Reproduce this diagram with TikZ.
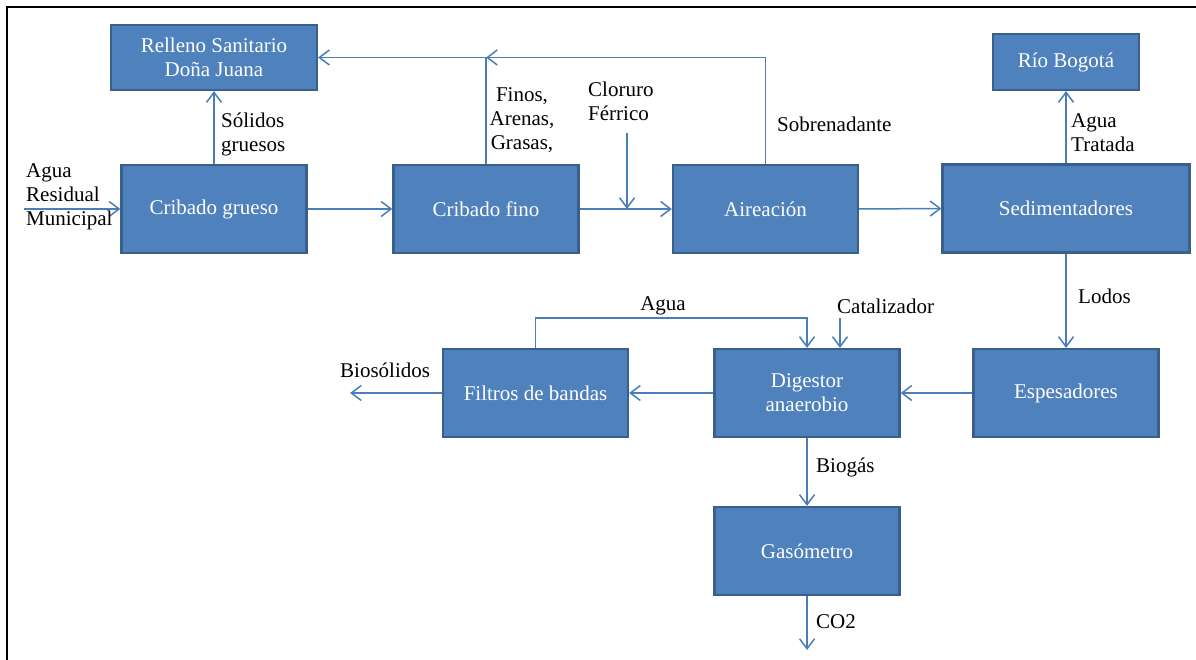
\documentclass[tikz,border=0pt]{standalone}
\usepackage{fontspec}
\setmainfont{Liberation Serif}
\usetikzlibrary{arrows.meta}
\definecolor{boxfill}{HTML}{4F81BD}
\definecolor{boxline}{HTML}{3A5F8B}
\definecolor{conn}{HTML}{4A7EBB}
\tikzset{
  box/.style={draw=boxline, line width=2.2pt, fill=boxfill, text=white, align=center,
    font=\fontsize{21}{24}\selectfont, inner sep=0pt},
  wide/.style={minimum width=185pt, minimum height=88pt},
  lbl/.style={text=black, font=\fontsize{21}{24}\selectfont, inner sep=0pt, align=left},
  arr/.style={draw=conn, line width=1.5pt, -{Straight Barb[length=10pt,width=15pt,line width=1.5pt]}},
}
\begin{document}
\begin{tikzpicture}[x=1pt,y=-1pt]
\useasboundingbox (0,0) rectangle (1196,660);
\draw[black, line width=2.5pt] (7,660) -- (7,7) -- (1196,7);

% boxes
\node[box, minimum width=206pt, minimum height=65pt] (rell) at (214,57.5) {Relleno Sanitario\\Doña Juana};
\node[box, wide] (cg) at (214,209) {Cribado grueso};
\node[box, wide] (cf) at (486,209) {Cribado fino};
\node[box, wide] (air) at (765.5,209) {Aireación};
\node[box, minimum width=247pt, minimum height=88pt] (sed) at (1066,208.5) {Sedimentadores};
\node[box, minimum width=146pt, minimum height=56pt] (rio) at (1066,62) {Río Bogotá};
\node[box, wide] (fil) at (535.5,393) {Filtros de bandas};
\node[box, wide] (dig) at (807,393) {Digestor\\anaerobio};
\node[box, wide] (esp) at (1066,393) {Espesadores};
\node[box, wide] (gas) at (807,551) {Gasómetro};

% free ends
\coordinate (in) at (24,209);
\coordinate (cl) at (627,133);
\coordinate (top) at (0,57.5);
\coordinate (aguay) at (0,318);
\coordinate (cat) at (840,318);
\coordinate (bio) at (350,393);
\coordinate (co2) at (807,650);

% connectors
\draw[arr] (in) -- (cg.west);
\draw[arr] (cg.north) -- (rell.south);
\draw[arr] (cg.east) -- (cf.west);
\draw[arr] (cf.north) |- (rell.east);
\draw[arr] (air.north) |- (cf.north |- top);
\draw[arr] (cl) -- (cl |- cf.east);
\draw[arr] (cf.east) -- (air.west);
\draw[arr] (air.east) -- (sed.west);
\draw[arr] (sed.north) -- (rio.south);
\draw[arr] (sed.south) -- (esp.north);
\draw[arr] (esp.west) -- (dig.east);
\draw[arr] (dig.west) -- (fil.east);
\draw[arr] (fil.west) -- (bio);
\draw[arr] (fil.north) -- (fil.north |- aguay) -| (dig.north);
\draw[arr] (cat) -- (cat |- dig.north);
\draw[arr] (dig.south) -- (gas.north);
\draw[arr] (gas.south) -- (co2);

% labels
\node[lbl, anchor=west] (l1) at (26,197) {Agua\\Residual\\Municipal};
\node[lbl, anchor=west] (l2) at (221,134) {Sólidos\\gruesos};
\node[lbl, align=center] (l3) at (522,120) {Finos,\\Arenas,\\Grasas,};
\node[lbl, anchor=west] (l4) at (588,101) {Cloruro\\Férrico};
\node[lbl, anchor=west] (l5) at (777,124) {Sobrenadante};
\node[lbl, anchor=west] (l6) at (1071,133) {Agua\\Tratada};
\node[lbl, anchor=west] (l7) at (1078,296) {Lodos};
\node[lbl] (l8) at (663,306) {Agua};
\node[lbl, anchor=west] (l9) at (837,306) {Catalizador};
\node[lbl, anchor=west] (l10) at (340,370) {Biosólidos};
\node[lbl, anchor=west] (l11) at (816,467) {Biogás};
\node[lbl, anchor=west] (l12) at (816,622) {CO2};
\end{tikzpicture}
\end{document}
